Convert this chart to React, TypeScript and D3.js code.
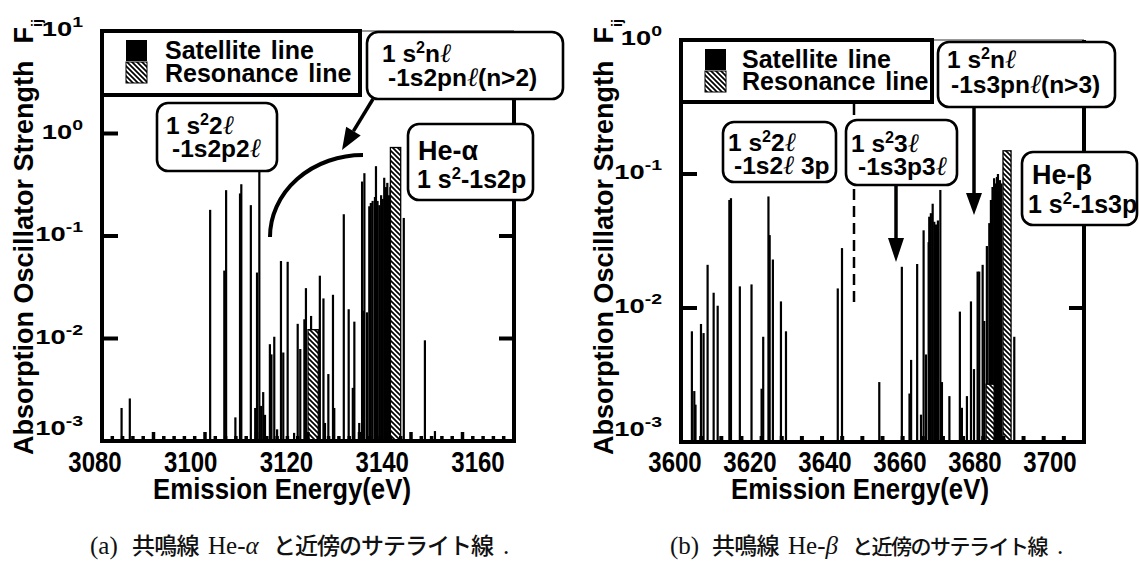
import React from "react";
import * as d3 from "d3";

// (a) He-α 付近 : [エネルギー(eV), 振動子強度]
const A_SATELLITE: [number, number][] = [
  [3083.8, 0.0021], [3085.4, 0.0026], [3101.0, 0.18], [3103.75, 0.046], [3104.1, 0.28],
  [3105.9, 0.0017], [3106.8, 0.26], [3107.05, 0.32], [3108.9, 0.2], [3109.75, 0.0021],
  [3110.1, 0.044], [3110.55, 0.5], [3110.9, 0.0022], [3111.3, 0.003], [3111.65, 0.0018],
  [3112.6, 0.0088], [3112.9, 0.007], [3113.45, 0.0104], [3114.0, 0.0013], [3114.75, 0.057],
  [3115.2, 0.0073], [3116.05, 0.056], [3117.3, 0.0012], [3118.0, 0.0139], [3118.5, 0.0079],
  [3119.3, 0.0154], [3119.6, 0.031], [3120.6, 0.0166], [3122.3, 0.041], [3123.0, 0.0246],
  [3123.3, 0.0015], [3123.95, 0.0045], [3124.85, 0.0267], [3125.1, 0.0021], [3126.95, 0.163],
  [3127.9, 0.0193], [3128.7, 0.0033], [3129.0, 0.0146], [3129.95, 0.0015], [3130.5, 0.34],
  [3130.8, 0.0186], [3130.95, 0.41], [3131.45, 0.018], [3131.9, 0.195], [3132.2, 0.21],
  [3132.55, 0.22], [3133.0, 0.24], [3133.2, 0.48], [3133.5, 0.22], [3133.85, 0.2],
  [3134.2, 0.25], [3134.5, 0.23], [3134.8, 0.37], [3135.15, 0.3], [3135.4, 0.33],
  [3135.75, 0.25], [3136.0, 0.3], [3136.2, 0.28], [3138.6, 0.15], [3142.7, 0.0096],
  [3144.65, 0.00125],
];
const A_RESONANCE: [number, number][] = [[3121.0, 0.0122], [3137.0, 0.73]];
const A_X_TICKS = [3080, 3100, 3120, 3140, 3160];
const A_Y_EXP = [1, 0, -1, -2, -3];

// (b) He-β 付近
const B_SATELLITE: [number, number][] = [
  [3602.7, 0.0067], [3603.3, 0.0024], [3603.6, 0.0019], [3604.96, 0.0076], [3605.6, 0.0065],
  [3606.6, 0.021], [3608.1, 0.013], [3609.1, 0.0104], [3612.0, 0.064], [3612.4, 0.066],
  [3614.6, 0.0145], [3617.5, 0.015], [3620.0, 0.0025], [3620.4, 0.0061], [3621.7, 0.068],
  [3622.0, 0.035], [3622.8, 0.023], [3624.8, 0.0112], [3626.05, 0.0067], [3638.9, 0.014],
  [3639.95, 0.028], [3649.2, 0.0028], [3654.8, 0.0203], [3656.7, 0.0023], [3657.1, 0.0041],
  [3658.6, 0.0213], [3659.55, 0.0016], [3660.2, 0.038], [3660.8, 0.0045], [3661.45, 0.031],
  [3661.6, 0.048], [3662.0, 0.051], [3662.45, 0.06], [3662.85, 0.044], [3663.25, 0.042],
  [3663.75, 0.045], [3664.35, 0.076], [3664.75, 0.0028], [3666.6, 0.0022], [3669.2, 0.0094],
  [3669.7, 0.0018], [3670.95, 0.0022], [3671.95, 0.0112], [3672.7, 0.0035], [3673.6, 0.0187],
  [3674.0, 0.0187], [3674.85, 0.021], [3675.25, 0.008], [3675.9, 0.029], [3676.5, 0.043],
  [3676.9, 0.064], [3677.3, 0.08], [3677.7, 0.093], [3678.15, 0.085], [3678.4, 0.095],
  [3678.65, 0.1], [3679.15, 0.09], [3679.5, 0.085], [3682.7, 0.0061],
];
const B_RESONANCE: [number, number][] = [[3676.7, 0.0027], [3680.9, 0.149]];
const B_X_TICKS = [3600, 3620, 3640, 3660, 3680, 3700];
const B_Y_EXP = [0, -1, -2, -3];

const LEGEND_ITEMS = ["Satellite line", "Resonance line"];
const X_TITLE = "Emission Energy(eV)";
const Y_TITLE = "Absorption Oscillator Strength";

const SANS = "'Liberation Sans', Arial, Helvetica, sans-serif";
const SERIF = "'Liberation Serif', 'DejaVu Serif', serif";
const CJK = "'Noto Sans CJK JP', sans-serif";
const ELL = "\u2113";
const RES_W = 2; // 共鳴線の描画幅 (eV)

type Layout = {
  left: number; right: number; top: number; bottom: number;
  xDomain: [number, number]; yDomain: [number, number]; labelRange: [number, number];
  minorStep: number; majorStep: number; minorLen: number; majorLen: number; tickW: number;
  yLabelRight: number; titleX: number;
  legendW: number; legendH: number; swX: number; swY: [number, number]; swS: number;
  legTextX: number; legTextY: [number, number]; xTitleX: number;
};

const LA: Layout = {
  left: 102, right: 514, top: 31, bottom: 441,
  xDomain: [3080, 3160], yDomain: [1e-3, 10], labelRange: [95, 478],
  minorStep: 2, majorStep: 10, minorLen: 3, majorLen: 7, tickW: 3.5,
  yLabelRight: 83, titleX: 33,
  legendW: 258, legendH: 64, swX: 126, swY: [40, 62], swS: 21,
  legTextX: 165, legTextY: [59, 82], xTitleX: 282,
};
const LB: Layout = {
  left: 681, right: 1084, top: 40, bottom: 442,
  xDomain: [3600, 3700], yDomain: [1e-3, 1], labelRange: [675, 1050],
  minorStep: 5, majorStep: 5, minorLen: 4, majorLen: 4, tickW: 4,
  yLabelRight: 662, titleX: 613,
  legendW: 251, legendH: 62, swX: 705, swY: [49, 71], swS: 21,
  legTextX: 742, legTextY: [68, 90], xTitleX: 860,
};

type Seg = [string, string?];
function Rich({ x, y, size, segs }: { x: number; y: number; size: number; segs: Seg[] }) {
  const up = size * 0.38;
  let prevSup = false;
  const spans = segs.map(([t, k], i) => {
    let dy = 0;
    if (k === "s" && !prevSup) dy = -up;
    if (k !== "s" && prevSup) dy = up;
    prevSup = k === "s";
    const ell = k === "l";
    return (
      <tspan key={i} dy={dy || undefined} fontSize={k === "s" ? size * 0.66 : ell ? size * 1.08 : undefined}
        fontFamily={ell ? SERIF : undefined} fontStyle={ell ? "italic" : undefined}
        fontWeight={ell ? "normal" : undefined}>{t}</tspan>
    );
  });
  return (
    <text x={x} y={y} fontFamily={SANS} fontWeight="bold" fontSize={size} fill="#000">{spans}</text>
  );
}

function Box({ x, y, w, h }: { x: number; y: number; w: number; h: number }) {
  return <rect x={x} y={y} width={w} height={h} rx={11} fill="#fff" stroke="#000" strokeWidth={2.6} />;
}

function Arrow({ x1, y1, x2, y2, head = 22, hw = 8.5 }: any) {
  const a = Math.atan2(y2 - y1, x2 - x1);
  const bx = x2 - head * Math.cos(a), by = y2 - head * Math.sin(a);
  const px = -Math.sin(a) * hw, py = Math.cos(a) * hw;
  return (
    <g>
      <line x1={x1} y1={y1} x2={bx} y2={by} stroke="#000" strokeWidth={3.5} />
      <path d={`M${x2},${y2}L${bx + px},${by + py}L${bx - px},${by - py}Z`} fill="#000" />
    </g>
  );
}

function Panel({ L, sat, res, xTicks, yExp }: { L: Layout; sat: [number, number][]; res: [number, number][]; xTicks: number[]; yExp: number[] }) {
  const x = d3.scaleLinear().domain(L.xDomain).range([L.left, L.right]);
  const xl = d3.scaleLinear().domain(L.xDomain).range(L.labelRange);
  const y = d3.scaleLog().domain(L.yDomain).range([L.bottom, L.top]);
  const minor = d3.range(L.xDomain[0] + L.minorStep, L.xDomain[1] - 1e-6, L.minorStep);
  const inner = yExp.filter((e) => 10 ** e > L.yDomain[0] * 1.01 && 10 ** e < L.yDomain[1] * 0.99);
  return (
    <g>
      {sat.map(([e, f], i) => (
        <rect key={i} x={x(e) - 1.1} y={y(f)} width={2.2} height={L.bottom - y(f)} fill="#000" />
      ))}
      {res.map(([e, f], i) => (
        <rect key={i} x={x(e - RES_W / 2)} y={y(f)} width={x(e + RES_W / 2) - x(e - RES_W / 2)}
          height={L.bottom - y(f)} fill="url(#hatch)" stroke="#000" strokeWidth={1.3} />
      ))}
      {minor.map((t) => {
        const major = Math.abs(t - L.xDomain[0]) % L.majorStep < 1e-6;
        return (
          <line key={t} x1={x(t)} x2={x(t)} y1={L.bottom} y2={L.bottom - 2 - (major ? L.majorLen : L.minorLen)}
            stroke="#000" strokeWidth={L.tickW} />
        );
      })}
      <line x1={L.left} x2={L.right} y1={L.top} y2={L.top} stroke="#777" strokeWidth={1.3} />
      <line x1={L.left} x2={L.left} y1={L.top} y2={L.bottom + 2} stroke="#000" strokeWidth={4} />
      <line x1={L.right} x2={L.right} y1={L.top} y2={L.bottom + 2} stroke="#000" strokeWidth={4} />
      <line x1={L.left - 2} x2={L.right + 2} y1={L.bottom} y2={L.bottom} stroke="#000" strokeWidth={4} />
      {inner.map((e) => (
        <g key={e}>
          <line x1={L.left} x2={L.left + 16} y1={y(10 ** e)} y2={y(10 ** e)} stroke="#000" strokeWidth={4} />
          <line x1={L.right} x2={L.right - 15} y1={y(10 ** e)} y2={y(10 ** e)} stroke="#000" strokeWidth={4} />
        </g>
      ))}
      {yExp.map((e) => (
        <text key={e} transform={`translate(${L.yLabelRight},${Math.min(y(10 ** e) + 5, L.bottom - 6)}) scale(1.3,1)`}
          textAnchor="end" fontFamily={SANS} fontWeight="bold" fontSize={21}>
          10<tspan dy={-9} fontSize={15}>{e}</tspan>
        </text>
      ))}
      {xTicks.map((t) => (
        <text key={t} transform={`translate(${xl(t)},472) scale(0.8,1)`} textAnchor="middle"
          fontFamily={SANS} fontWeight="bold" fontSize={30}>{t}</text>
      ))}
      <text transform={`translate(${L.xTitleX},499) scale(0.86,1)`} textAnchor="middle"
        fontFamily={SANS} fontWeight="bold" fontSize={30}>{X_TITLE}</text>
      <text transform={`translate(${L.titleX},455) rotate(-90)`} fontFamily={SANS} fontWeight="bold" fontSize={27}>
        {Y_TITLE}<tspan dx={17}>F</tspan><tspan dy={9} fontSize={14}>ij</tspan>
      </text>
      <rect x={L.left} y={L.top} width={L.legendW} height={L.legendH} fill="#fff" stroke="#000" strokeWidth={4} />
      <rect x={L.swX} y={L.swY[0]} width={L.swS} height={L.swS} fill="#000" />
      <rect x={L.swX} y={L.swY[1]} width={L.swS} height={L.swS} fill="url(#hatch)" stroke="#000" strokeWidth={1} />
      {LEGEND_ITEMS.map((t, i) => (
        <text key={t} x={L.legTextX} y={L.legTextY[i]} fontFamily={SANS} fontWeight="bold" fontSize={25}
          wordSpacing={3}>{t}</text>
      ))}
    </g>
  );
}

type CapProps = { x: number; letter: string; greek: string; pos: number[]; cjkSize: number; cjkSpace: number };
function Caption({ x, letter, greek, pos, cjkSize, cjkSpace }: CapProps) {
  return (
    <text y={554} fill="#111">
      <tspan x={x + pos[0]} fontFamily={SERIF} fontSize={25}>({letter})</tspan>
      <tspan x={x + pos[1]} fontFamily={CJK} fontSize={23} fontWeight={500} letterSpacing={-0.7}>共鳴線</tspan>
      <tspan x={x + pos[2]} fontFamily={SERIF} fontSize={25}>He-</tspan>
      <tspan fontFamily={SERIF} fontStyle="italic" fontSize={25}>{greek}</tspan>
      <tspan x={x + pos[3]} fontFamily={CJK} fontSize={cjkSize} fontWeight={500} letterSpacing={cjkSpace}>と近傍のサテライト線</tspan>
      <tspan x={x + pos[4]} fontFamily={SERIF} fontSize={25}>.</tspan>
    </text>
  );
}

export default function App() {
  return (
    <svg width={1139} height={562} style={{ position: "absolute", left: 0, top: 0, background: "#fff" }}>
      <defs>
        <pattern id="hatch" width={5} height={5} patternUnits="userSpaceOnUse">
          <rect width={5} height={5} fill="#fff" />
          <path d="M-1,-1L6,6M-1,4L1,6M4,-1L6,1" stroke="#000" strokeWidth={1.7} />
        </pattern>
      </defs>
      <rect width={1139} height={562} fill="#fff" />

      <Panel L={LA} sat={A_SATELLITE} res={A_RESONANCE} xTicks={A_X_TICKS} yExp={A_Y_EXP} />
      {/* (a) 注記 */}
      <path d="M270,237A93,82 0 0,1 363,155" fill="none" stroke="#000" strokeWidth={4} />
      <Arrow x1={373} y1={99} x2={342} y2={150} />
      <Box x={157} y={103} w={120} h={68} />
      <Rich x={166} y={134} size={24.5} segs={[["1 s"], ["2", "s"], ["2"], [ELL, "l"]]} />
      <Rich x={172} y={157} size={24.5} segs={[["-1s2p2"], [ELL, "l"]]} />
      <Box x={367} y={32} w={196} h={67} />
      <Rich x={382} y={62} size={24.5} segs={[["1 s"], ["2", "s"], ["n"], [ELL, "l"]]} />
      <Rich x={388} y={86} size={24.5} segs={[["-1s2pn"], [ELL, "l"], ["(n>2)"]]} />
      <Box x={408} y={124} w={125} h={76} />
      <Rich x={418} y={160} size={27} segs={[["He-α"]]} />
      <Rich x={417} y={188} size={25} segs={[["1 s"], ["2", "s"], ["-1s2p"]]} />

      <Panel L={LB} sat={B_SATELLITE} res={B_RESONANCE} xTicks={B_X_TICKS} yExp={B_Y_EXP} />
      {/* (b) 注記 */}
      <line x1={854} x2={854} y1={104} y2={305} stroke="#000" strokeWidth={2.5} strokeDasharray="11 6" />
      <Box x={723} y={122} w={113} h={60} />
      <Rich x={728} y={151} size={24.5} segs={[["1 s"], ["2", "s"], ["2"], [ELL, "l"]]} />
      <Rich x={734} y={174} size={24.5} segs={[["-1s2"], [ELL, "l"], [" 3p"]]} />
      <Arrow x1={896} y1={185} x2={896} y2={262} head={24} hw={8} />
      <Box x={846} y={120} w={111} h={65} />
      <Rich x={851} y={152} size={24.5} segs={[["1 s"], ["2", "s"], ["3"], [ELL, "l"]]} />
      <Rich x={858} y={175} size={24.5} segs={[["-1s3p3"], [ELL, "l"]]} />
      <Arrow x1={974} y1={107} x2={974} y2={215} head={22} hw={8} />
      <Box x={938} y={42} w={177} h={65} />
      <Rich x={947} y={68} size={24.5} segs={[["1 s"], ["2", "s"], ["n"], [ELL, "l"]]} />
      <Rich x={951} y={93} size={24.5} segs={[["-1s3pn"], [ELL, "l"], ["(n>3)"]]} />
      <Box x={1022} y={152} w={115} h={73} />
      <Rich x={1032} y={184} size={27} segs={[["He-β"]]} />
      <Rich x={1028} y={213} size={25} segs={[["1 s"], ["2", "s"], ["-1s3p"]]} />

      <Caption x={90} letter="a" greek="α" pos={[0, 42, 118, 183, 413]} cjkSize={23} cjkSpace={-1} />
      <Caption x={670} letter="b" greek="β" pos={[0, 42, 118, 182, 387]} cjkSize={21} cjkSpace={-1.5} />
    </svg>
  );
}
